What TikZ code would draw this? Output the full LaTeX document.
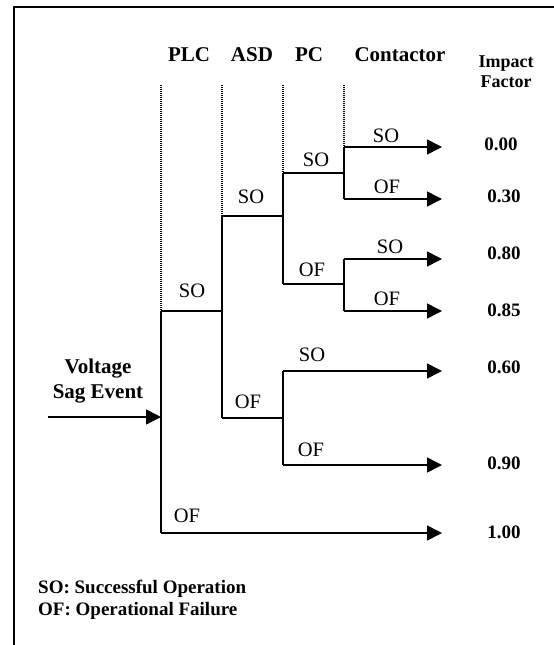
\documentclass[tikz,border=0pt]{standalone}
\usepackage{fontspec}
\setmainfont{Liberation Serif}
\usetikzlibrary{arrows.meta}
\begin{document}
\begin{tikzpicture}[x=1pt,y=-1pt,
  br/.style={line width=1.6pt},
  arr/.style={-{Triangle[length=15pt,width=15pt]}},
  guide/.style={dash pattern=on 1pt off 1pt, line width=1.1pt},
  lbl/.style={font=\fontsize{20.5}{23}\selectfont, anchor=base, inner sep=0pt},
  hdr/.style={font=\bfseries\fontsize{21}{23}\selectfont, anchor=base, inner sep=0pt},
  val/.style={font=\bfseries\fontsize{19}{21}\selectfont, inner sep=0pt},
  note/.style={font=\bfseries\fontsize{19}{22}\selectfont, align=left, anchor=west, inner sep=0pt}
]
\useasboundingbox (0,0) rectangle (554,645);
% frame
\coordinate (fTR) at (554,7);
\coordinate (fTL) at (14,7);
\coordinate (fBL) at (14,645);
\draw[line width=2pt] (fTR) -- (fTL) -- (fBL);

% headers
\node[hdr] (hPLC) at (189,61) {PLC};
\node[hdr] (hASD) at (252,61) {ASD};
\node[hdr] (hPC) at (309,61) {PC};
\node[hdr] (hCon) at (400,61) {Contactor};
\node[font=\bfseries\fontsize{18}{20}\selectfont, align=center, inner sep=0pt] (hImp) at (506,72) {Impact\\Factor};

% guide tops
\coordinate (gPLC) at (161,85);
\coordinate (gASD) at (222,85);
\coordinate (gPC) at (283,85);
\coordinate (gCon) at (344,85);

% junction coordinates
\coordinate (in) at (48,417);
\coordinate (plc) at (161,417);
\coordinate (plcT) at (161,311);
\coordinate (plcB) at (161,533);
\coordinate (asdT) at (222,216);
\coordinate (asd) at (222,311);
\coordinate (asdB) at (222,418);
\coordinate (pcaT) at (283,173);
\coordinate (pca) at (283,216);
\coordinate (pcaB) at (283,284);
\coordinate (pcbT) at (283,371);
\coordinate (pcb) at (283,418);
\coordinate (pcbB) at (283,465);
\coordinate (caT) at (344,147);
\coordinate (ca) at (344,173);
\coordinate (caB) at (344,199);
\coordinate (cbT) at (344,259);
\coordinate (cb) at (344,284);
\coordinate (cbB) at (344,311);
\coordinate (e1) at (442,147);
\coordinate (e2) at (442,199);
\coordinate (e3) at (442,259);
\coordinate (e4) at (442,311);
\coordinate (e5) at (442,371);
\coordinate (e6) at (442,465);
\coordinate (e7) at (442,533);

% dotted guides
\draw[guide] (gPLC) -- (plcT);
\draw[guide] (gASD) -- (asdT);
\draw[guide] (gPC) -- (pcaT);
\draw[guide] (gCon) -- (caT);

% input
\node[font=\bfseries\fontsize{21}{25}\selectfont, align=center, inner sep=0pt] (vse) at (98,381) {Voltage\\Sag Event};
\draw[br,arr] (in) -- (plc);

% tree
\draw[br] (plcT) -- (plcB);
\draw[br] (plcT) -- (asd);
\draw[br,arr] (plcB) -- (e7);
\draw[br] (asdT) -- (asdB);
\draw[br] (asdT) -- (pca);
\draw[br] (asdB) -- (pcb);
\draw[br] (pcaT) -- (pcaB);
\draw[br] (pcaT) -- (ca);
\draw[br] (pcaB) -- (cb);
\draw[br] (pcbT) -- (pcbB);
\draw[br,arr] (pcbT) -- (e5);
\draw[br,arr] (pcbB) -- (e6);
\draw[br] (caT) -- (caB);
\draw[br,arr] (caT) -- (e1);
\draw[br,arr] (caB) -- (e2);
\draw[br] (cbT) -- (cbB);
\draw[br,arr] (cbT) -- (e3);
\draw[br,arr] (cbB) -- (e4);

% branch labels
\node[lbl] (l1) at (386,142) {SO};
\node[lbl] (l2) at (387,193) {OF};
\node[lbl] (l3) at (316,166) {SO};
\node[lbl] (l4) at (312,276) {OF};
\node[lbl] (l5) at (390,253) {SO};
\node[lbl] (l6) at (387,305) {OF};
\node[lbl] (l7) at (251,203) {SO};
\node[lbl] (l8) at (248,408) {OF};
\node[lbl] (l9) at (192,297) {SO};
\node[lbl] (l10) at (312,361) {SO};
\node[lbl] (l11) at (311,456) {OF};
\node[lbl] (l12) at (187,522) {OF};

% impact values
\node[val] (v1) at (501,144) {0.00};
\node[val] (v2) at (504,196) {0.30};
\node[val] (v3) at (504,253) {0.80};
\node[val] (v4) at (504,310) {0.85};
\node[val] (v5) at (504,367) {0.60};
\node[val] (v6) at (504,463) {0.90};
\node[val] (v7) at (504,532) {1.00};

% legend
\node[note] (leg) at (38,600) {SO: Successful Operation\\OF: Operational Failure};
\end{tikzpicture}
\end{document}
